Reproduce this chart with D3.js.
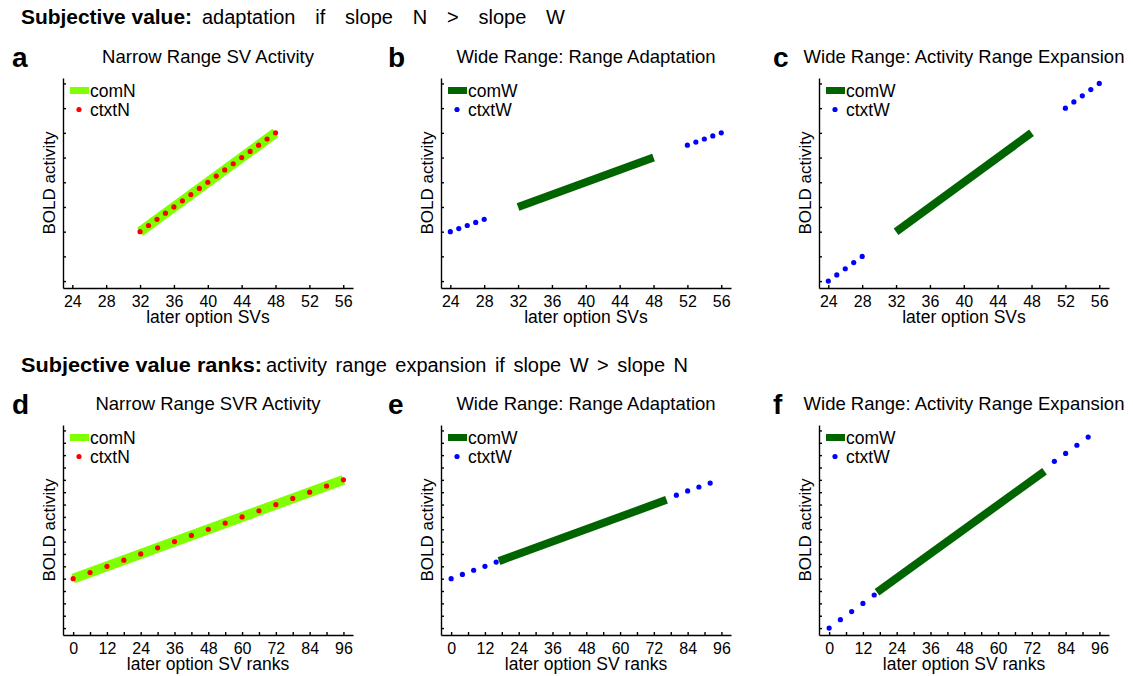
<!DOCTYPE html>
<html>
<head>
<meta charset="utf-8">
<script src="https://cdn.jsdelivr.net/npm/d3@7"></script>
<style>
  body { margin: 0; background: #fff; }
  svg { font-family: "Liberation Sans", Arial, sans-serif; }
  .axis path, .axis line { stroke: #000; stroke-width: 1.4; }
  .axis text { font-size: 16px; fill: #000; font-family: "Liberation Sans", Arial, sans-serif; }
</style>
</head>
<body>
<div id="chart"></div>
<script>
// ---- data ----
var svTicks = [24, 28, 32, 36, 40, 44, 48, 52, 56];
var rankTicks = [0, 6, 12, 18, 24, 30, 36, 42, 48, 54, 60, 66, 72, 78, 84, 90, 96];

// a: narrow range, SV
var comN_svX = [32, 48];
var comN_svY = [2, 6];
var ctxtN_svX = [32, 33, 34, 35, 36, 37, 38, 39, 40, 41, 42, 43, 44, 45, 46, 47, 48];
var ctxtN_svY = [2, 2.25, 2.5, 2.75, 3, 3.25, 3.5, 3.75, 4, 4.25, 4.5, 4.75, 5, 5.25, 5.5, 5.75, 6];

// b: wide range, range adaptation, SV
var comW_adaptX = [32, 48];
var comW_adaptY = [3, 5];
var ctxtW_svX = [24, 25, 26, 27, 28, 52, 53, 54, 55, 56];
var ctxtW_adaptY = [2, 2.125, 2.25, 2.375, 2.5, 5.5, 5.625, 5.75, 5.875, 6];

// c: wide range, activity range expansion, SV
var comW_expX = [32, 48];
var comW_expY = [2, 6];
var ctxtW_expY = [0, 0.25, 0.5, 0.75, 1, 7, 7.25, 7.5, 7.75, 8];

// d: narrow range, SV ranks
var comN_rkX = [0, 96];
var comN_rkY = [2, 6];
var ctxtN_rkX = [0, 6, 12, 18, 24, 30, 36, 42, 48, 54, 60, 66, 72, 78, 84, 90, 96];
var ctxtN_rkY = [2, 2.25, 2.5, 2.75, 3, 3.25, 3.5, 3.75, 4, 4.25, 4.5, 4.75, 5, 5.25, 5.5, 5.75, 6];

// e: wide range, range adaptation, SV ranks
var comW_rkAdaptX = [17, 76.5];
var comW_rkAdaptY = [2.71, 5.19];
var ctxtW_rkX = [0, 4, 8, 12, 16, 80, 84, 88, 92];
var ctxtW_rkAdaptY = [2, 2.17, 2.34, 2.5, 2.67, 5.38, 5.55, 5.71, 5.87];

// f: wide range, activity range expansion, SV ranks
var comW_rkExpX = [17, 76.5];
var comW_rkExpY = [1.45, 6.35];
var ctxtW_rkExpY = [0, 0.34, 0.67, 1, 1.34, 6.75, 7.07, 7.4, 7.73];

var yTicksTop = [0, 1, 2, 3, 4, 5, 6, 7, 8];
var yTicksBottom = [0, 0.5, 1, 1.5, 2, 2.5, 3, 3.5, 4, 4.5, 5, 5.5, 6, 6.5, 7, 7.5, 8];

var GREEN_N = "#80ff00", GREEN_W = "#006400";

function zip(xs, ys) { return xs.map(function(x, i) { return [x, ys[i]]; }); }

var panels = [
  {letter: "a", title: "Narrow Range SV Activity", col: 0, row: 0, kind: "sv",
   com: zip(comN_svX, comN_svY), ctxt: zip(ctxtN_svX, ctxtN_svY),
   comName: "comN", ctxtName: "ctxtN", comColor: GREEN_N, ctxtColor: "#ff0000", comW: 10},
  {letter: "b", title: "Wide Range: Range Adaptation", col: 1, row: 0, kind: "sv",
   com: zip(comW_adaptX, comW_adaptY), ctxt: zip(ctxtW_svX, ctxtW_adaptY),
   comName: "comW", ctxtName: "ctxtW", comColor: GREEN_W, ctxtColor: "#0000ff", comW: 8},
  {letter: "c", title: "Wide Range: Activity Range Expansion", col: 2, row: 0, kind: "sv",
   com: zip(comW_expX, comW_expY), ctxt: zip(ctxtW_svX, ctxtW_expY),
   comName: "comW", ctxtName: "ctxtW", comColor: GREEN_W, ctxtColor: "#0000ff", comW: 8},
  {letter: "d", title: "Narrow Range SVR Activity", col: 0, row: 1, kind: "rank",
   com: zip(comN_rkX, comN_rkY), ctxt: zip(ctxtN_rkX, ctxtN_rkY),
   comName: "comN", ctxtName: "ctxtN", comColor: GREEN_N, ctxtColor: "#ff0000", comW: 10},
  {letter: "e", title: "Wide Range: Range Adaptation", col: 1, row: 1, kind: "rank",
   com: zip(comW_rkAdaptX, comW_rkAdaptY), ctxt: zip(ctxtW_rkX, ctxtW_rkAdaptY),
   comName: "comW", ctxtName: "ctxtW", comColor: GREEN_W, ctxtColor: "#0000ff", comW: 8},
  {letter: "f", title: "Wide Range: Activity Range Expansion", col: 2, row: 1, kind: "rank",
   com: zip(comW_rkExpX, comW_rkExpY), ctxt: zip(ctxtW_rkX, ctxtW_rkExpY),
   comName: "comW", ctxtName: "ctxtW", comColor: GREEN_W, ctxtColor: "#0000ff", comW: 8}
];

var svg = d3.select("#chart").append("svg")
    .attr("width", 1133)
    .attr("height", 676);

var colLeft = [63, 441, 819],
    letterX = [12, 388, 773],
    plotW = 290,
    rowTop = [78, 425],
    plotH = 210;

// section headers: bold lead-in, then the rest with its word gaps widened to the figure's width
var headers = [
  {y: 24, bold: "Subjective value:", boldEnd: 192, rest: "adaptation if slope N > slope W", restX: 202, restEnd: 565},
  {y: 372, bold: "Subjective value ranks:", boldEnd: 262, rest: "activity range expansion if slope W > slope N", restX: 266, restEnd: 688}
];
headers.forEach(function(h) {
  svg.append("text").attr("x", 21).attr("y", h.y)
      .style("font-size", "20px").style("font-weight", "bold")
      .attr("textLength", h.boldEnd - 21).attr("lengthAdjust", "spacingAndGlyphs")
      .text(h.bold);
  var t = svg.append("text").attr("x", h.restX).attr("y", h.y)
      .style("font-size", "20px")
      .text(h.rest);
  var natural = t.node().getComputedTextLength(),
      gaps = h.rest.split(" ").length - 1,
      extra = Math.max(0, (h.restEnd - h.restX - natural) / gaps);
  t.style("word-spacing", extra + "px");
});

panels.forEach(function(p) {
  var x0 = colLeft[p.col], y0 = rowTop[p.row];
  var g = svg.append("g").attr("transform", "translate(" + x0 + "," + y0 + ")");

  var x = d3.scaleLinear().range([0, plotW]);
  if (p.kind === "sv") x.domain([22.9, 57.15]);
  else x.domain([-3.6, 99.4]);
  var y = d3.scaleLinear().domain([-0.28, 8.22]).range([plotH, 0]);

  // x axis, ticks inward
  var xAxis = d3.axisBottom(x)
      .tickSizeInner(-3).tickSizeOuter(0).tickPadding(8);
  if (p.kind === "sv") {
    xAxis.tickValues(svTicks).tickFormat(d3.format("d"));
  } else {
    xAxis.tickValues(rankTicks).tickFormat(function(d) { return d % 12 === 0 ? d : ""; });
  }
  g.append("g")
      .attr("class", "axis axis--x")
      .attr("transform", "translate(0," + plotH + ")")
      .call(xAxis);

  g.append("g")
      .attr("class", "axis axis--y")
      .call(d3.axisLeft(y)
        .tickValues(p.row === 0 ? yTicksTop : yTicksBottom)
        .tickSizeInner(-3).tickSizeOuter(0).tickFormat(""));

  // axis titles
  g.append("text")
      .attr("x", plotW / 2)
      .attr("y", plotH + 35)
      .attr("text-anchor", "middle")
      .style("font-size", "17.5px")
      .text(p.kind === "sv" ? "later option SVs" : "later option SV ranks");

  g.append("text")
      .attr("transform", "translate(-8," + (plotH / 2) + ") rotate(-90)")
      .attr("text-anchor", "middle")
      .style("font-size", "17px")
      .text("BOLD activity");

  // panel title + letter
  g.append("text")
      .attr("x", plotW / 2)
      .attr("y", -15)
      .attr("text-anchor", "middle")
      .style("font-size", "18.5px")
      .text(p.title);

  svg.append("text")
      .attr("x", letterX[p.col])
      .attr("y", y0 - 11)
      .style("font-size", "28px")
      .style("font-weight", "bold")
      .text(p.letter);

  // data
  var line = d3.line()
      .x(function(d) { return x(d[0]); })
      .y(function(d) { return y(d[1]); });

  g.append("path")
      .datum(p.com)
      .attr("d", line)
      .attr("fill", "none")
      .attr("stroke", p.comColor)
      .attr("stroke-width", p.comW);

  g.selectAll(".dot")
    .data(p.ctxt)
    .enter().append("circle")
      .attr("class", "dot")
      .attr("cx", function(d) { return x(d[0]); })
      .attr("cy", function(d) { return y(d[1]); })
      .attr("r", 2.6)
      .attr("fill", p.ctxtColor);

  // legend
  var lg = g.append("g").attr("transform", "translate(7,12.5)");
  lg.append("line")
      .attr("x1", 0).attr("x2", 19)
      .attr("y1", 0).attr("y2", 0)
      .attr("stroke", p.comColor)
      .attr("stroke-width", 7);
  lg.append("text")
      .attr("x", 20).attr("y", 6.5)
      .style("font-size", "17.5px")
      .text(p.comName);
  lg.append("circle")
      .attr("cx", 9).attr("cy", 19)
      .attr("r", 2.6)
      .attr("fill", p.ctxtColor);
  lg.append("text")
      .attr("x", 20).attr("y", 25.5)
      .style("font-size", "17.5px")
      .text(p.ctxtName);
});
</script>
</body>
</html>
